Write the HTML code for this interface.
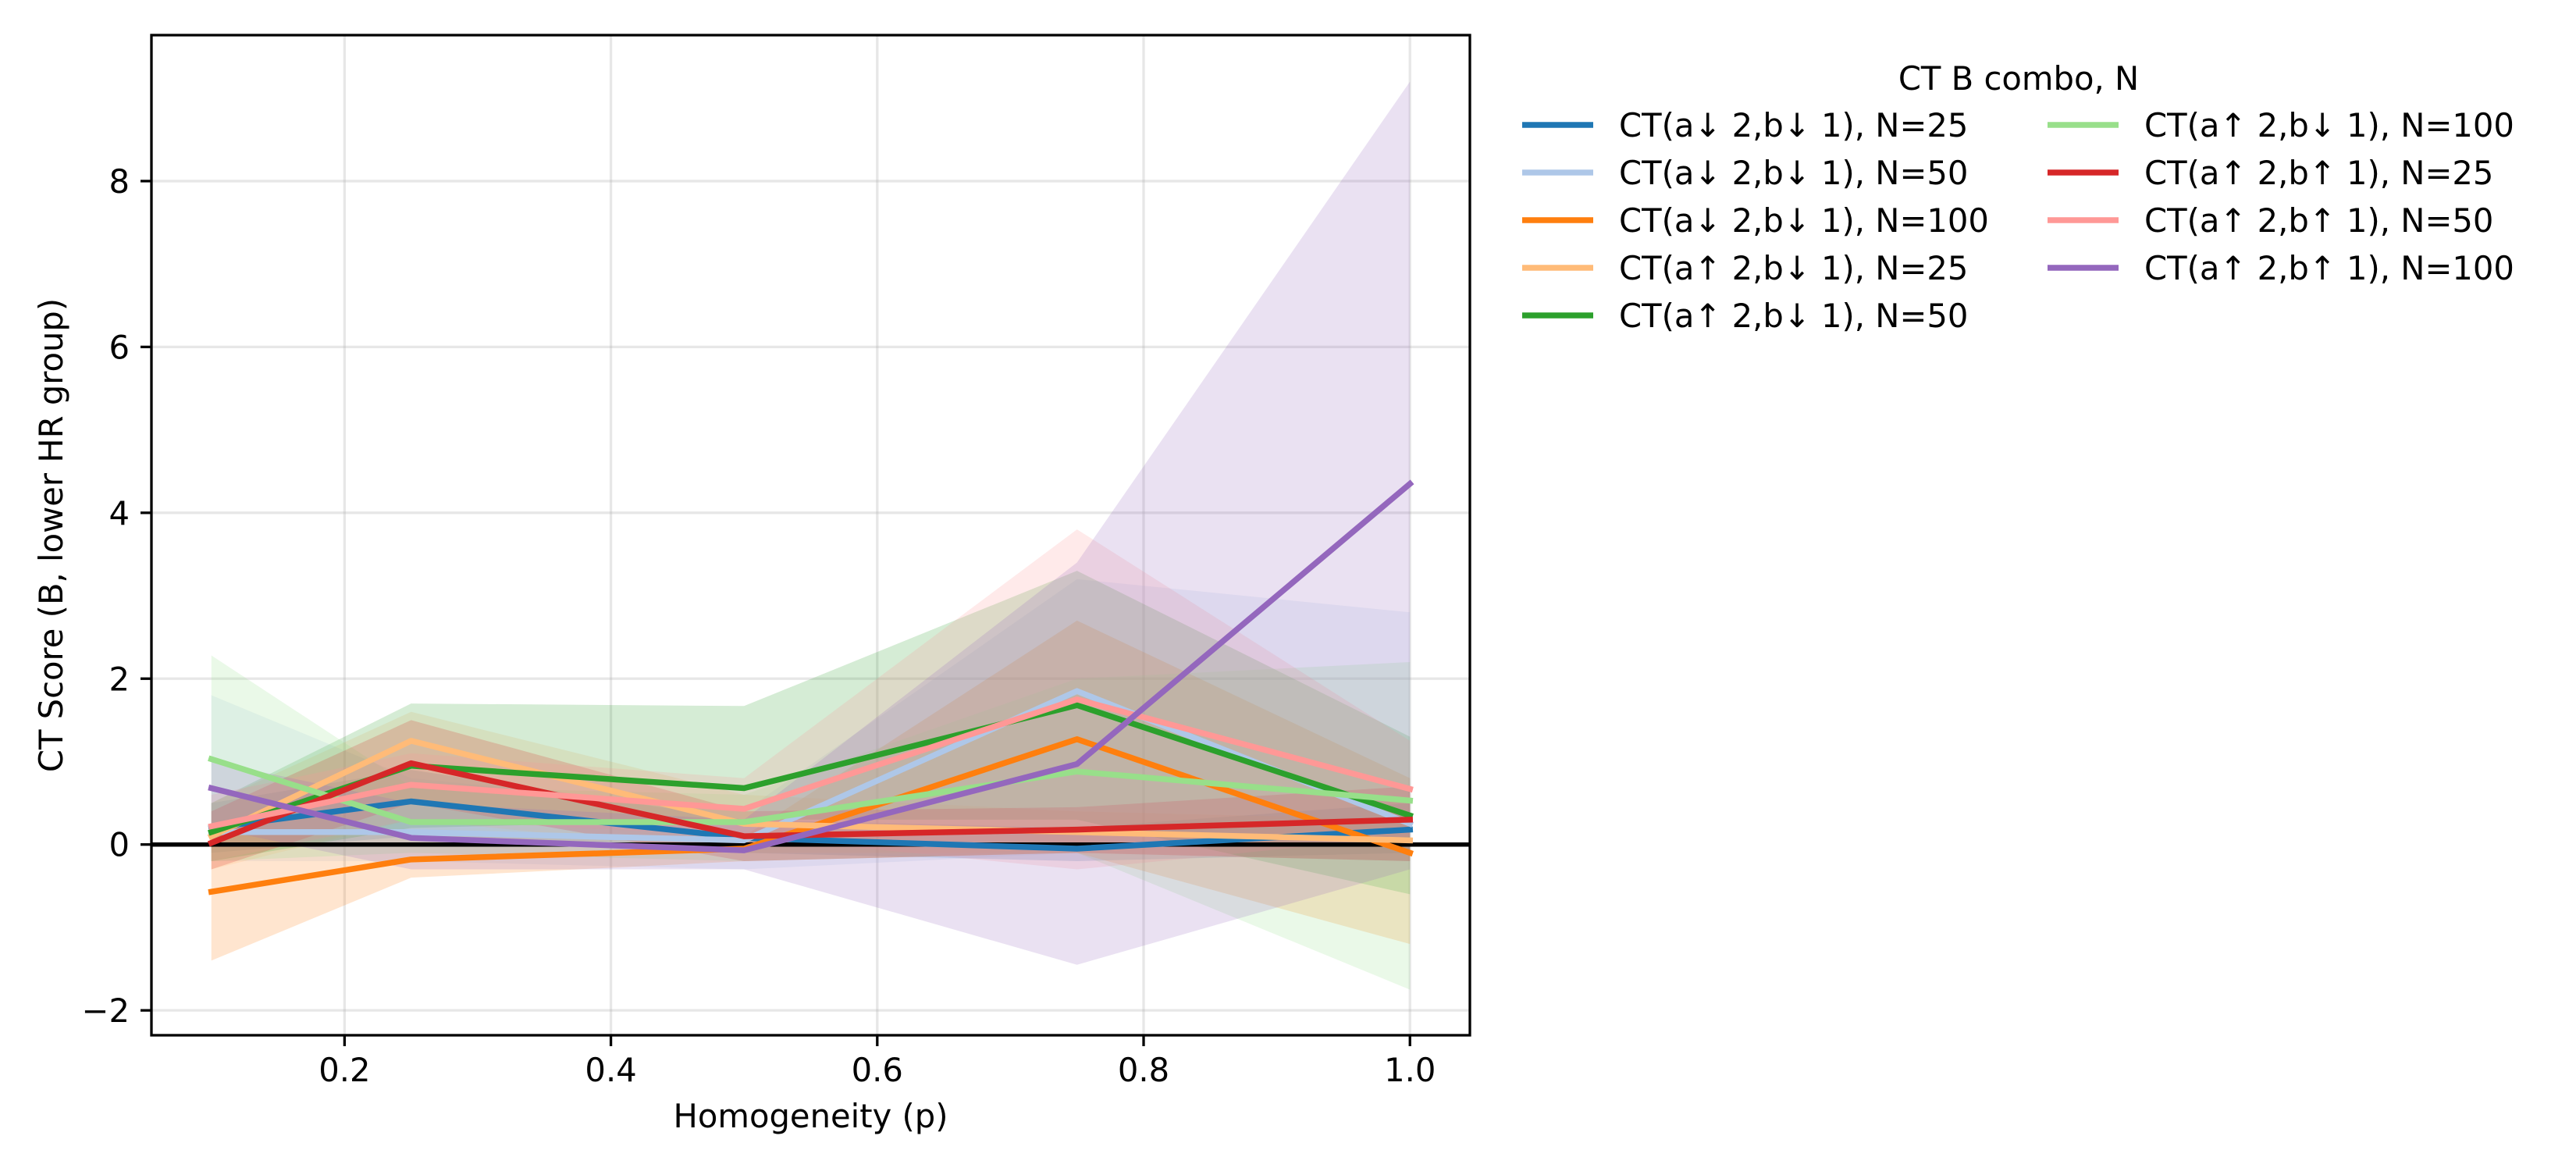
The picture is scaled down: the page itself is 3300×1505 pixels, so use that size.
<!DOCTYPE html>
<html><head><meta charset="utf-8"><style>
html,body{margin:0;padding:0;background:#fff;}
svg text{font-family:"DejaVu Sans","Liberation Sans",sans-serif;fill:#000;}
</style></head><body>
<svg id="chart" width="3300" height="1500" viewBox="0 0 3300 1500" xmlns="http://www.w3.org/2000/svg">
<rect width="3300" height="1500" fill="#fff"/>
<g id="grid"></g>
<g id="bands"></g>
<g id="lines"></g>
<g id="axes"></g>
<g id="legend"></g>
</svg>
<script>
const xValues = [0.1, 0.25, 0.5, 0.75, 1.0];
const xTicks = [0.2, 0.4, 0.6, 0.8, 1.0];
const xTickLabels = ["0.2", "0.4", "0.6", "0.8", "1.0"];
const yTicks = [-2, 0, 2, 4, 6, 8];
const yTickLabels = ["\u22122", "0", "2", "4", "6", "8"];
const seriesNames = ["CT(a\u2193 2,b\u2193 1), N=25","CT(a\u2193 2,b\u2193 1), N=50","CT(a\u2193 2,b\u2193 1), N=100","CT(a\u2191 2,b\u2193 1), N=25","CT(a\u2191 2,b\u2193 1), N=50","CT(a\u2191 2,b\u2193 1), N=100","CT(a\u2191 2,b\u2191 1), N=25","CT(a\u2191 2,b\u2191 1), N=50","CT(a\u2191 2,b\u2191 1), N=100"];
const seriesColors = ["#1f77b4","#aec7e8","#ff7f0e","#ffbb78","#2ca02c","#98df8a","#d62728","#ff9896","#9467bd"];
const meanS1 = [0.2, 0.52, 0.08, -0.05, 0.18];
const meanS2 = [0.15, 0.15, 0.05, 1.85, 0.25];
const meanS3 = [-0.57, -0.18, -0.05, 1.27, -0.1];
const meanS4 = [0.1, 1.25, 0.25, 0.15, 0.05];
const meanS5 = [0.15, 0.95, 0.68, 1.68, 0.35];
const meanS6 = [1.03, 0.27, 0.27, 0.88, 0.53];
const meanS7 = [0.02, 0.98, 0.1, 0.18, 0.3];
const meanS8 = [0.22, 0.72, 0.43, 1.75, 0.67];
const meanS9 = [0.68, 0.08, -0.07, 0.97, 4.35];
const loS1 = [-0.1, 0.1, -0.1, -0.2, -0.1];
const hiS1 = [0.5, 0.9, 0.3, 0.2, 0.5];
const loS2 = [-0.2, -0.2, -0.3, -0.1, -0.2];
const hiS2 = [1.8, 0.8, 0.4, 3.2, 2.8];
const loS3 = [-1.4, -0.4, -0.2, -0.1, -1.2];
const hiS3 = [0.2, 0.1, 0.1, 2.7, 0.8];
const loS4 = [-0.3, 0.3, -0.1, -0.1, -0.2];
const hiS4 = [0.5, 1.6, 0.6, 0.4, 0.3];
const loS5 = [-0.2, 0.2, 0.3, 0.3, -0.6];
const hiS5 = [0.5, 1.7, 1.67, 3.3, 1.3];
const loS6 = [-0.2, -0.1, -0.2, -0.1, -1.75];
const hiS6 = [2.28, 0.7, 0.6, 2.0, 2.2];
const loS7 = [-0.3, 0.5, -0.2, -0.1, -0.2];
const hiS7 = [0.4, 1.5, 0.4, 0.45, 0.7];
const loS8 = [-0.2, 0.3, 0.1, -0.3, 0.1];
const hiS8 = [0.6, 1.1, 0.8, 3.8, 1.25];
const loS9 = [0.2, -0.3, -0.3, -1.45, -0.3];
const hiS9 = [1.0, 0.5, 0.3, 3.4, 9.2];

const means = [meanS1,meanS2,meanS3,meanS4,meanS5,meanS6,meanS7,meanS8,meanS9];
const los = [loS1,loS2,loS3,loS4,loS5,loS6,loS7,loS8,loS9];
const his = [hiS1,hiS2,hiS3,hiS4,hiS5,hiS6,hiS7,hiS8,hiS9];

const NS = "http://www.w3.org/2000/svg";
const L = 194, R = 1883, T = 45, B = 1326;
const xMin = 0.055, xMax = 1.045, yMin = -2.3, yMax = 9.76;
function xs(v){ return L + (v - xMin) / (xMax - xMin) * (R - L); }
function ys(v){ return B - (v - yMin) / (yMax - yMin) * (B - T); }
function mk(tag, attrs, parent){
  const e = document.createElementNS(NS, tag);
  for (const k in attrs) e.setAttribute(k, attrs[k]);
  parent.appendChild(e); return e;
}
const gGrid = document.getElementById('grid');
const gBands = document.getElementById('bands');
const gLines = document.getElementById('lines');
const gAxes = document.getElementById('axes');
const gLeg = document.getElementById('legend');

xTicks.forEach((t,i)=>{
  const g = mk('line',{x1:xs(t),x2:xs(t),y1:T,y2:B,stroke:'#b0b0b0','stroke-opacity':0.3,'stroke-width':3.3},gGrid);
  
  
});
yTicks.forEach((t,i)=>{
  const g = mk('line',{x1:L,x2:R,y1:ys(t),y2:ys(t),stroke:'#b0b0b0','stroke-opacity':0.3,'stroke-width':3.3},gGrid);
  
  
});

means.forEach((m,s)=>{
  let pts = xValues.map((x,i)=>xs(x)+','+ys(his[s][i]));
  for (let i = xValues.length-1; i>=0; i--) pts.push(xs(xValues[i])+','+ys(los[s][i]));
  const p = mk('polygon',{points:pts.join(' '),fill:seriesColors[s],'fill-opacity':0.2},gBands);
  
  
});

const zl = mk('line',{x1:L,x2:R,y1:ys(0),y2:ys(0),stroke:'#000','stroke-width':5.5},gLines);



means.forEach((m,s)=>{
  const pl = mk('polyline',{points:xValues.map((x,i)=>xs(x)+','+ys(m[i])).join(' '),fill:'none',stroke:seriesColors[s],'stroke-width':7.5,'stroke-linejoin':'round','stroke-linecap':'square'},gLines);
  
  
});

const frame = mk('rect',{x:L,y:T,width:R-L,height:B-T,fill:'none',stroke:'#000','stroke-width':3.3},gAxes);



xTicks.forEach((t,i)=>{
  const tk = mk('line',{x1:xs(t),x2:xs(t),y1:B,y2:B+14,stroke:'#000','stroke-width':3.3},gAxes);
  
  
  const tx = mk('text',{x:xs(t),y:B+59,'font-size':41.7,'text-anchor':'middle'},gAxes);
  tx.textContent = xTickLabels[i];
  
  
});
yTicks.forEach((t,i)=>{
  const tk = mk('line',{x1:L-14,x2:L,y1:ys(t),y2:ys(t),stroke:'#000','stroke-width':3.3},gAxes);
  
  
  const tx = mk('text',{x:L-28,y:ys(t)+15,'font-size':41.7,'text-anchor':'end'},gAxes);
  tx.textContent = yTickLabels[i];
  
  
});
const xl = mk('text',{x:(L+R)/2,y:1444,'font-size':41.7,'text-anchor':'middle'},gAxes);
xl.textContent = 'Homogeneity (p)';


const yl = mk('text',{x:0,y:0,'font-size':41.7,'text-anchor':'middle',transform:'translate(80,'+((T+B)/2)+') rotate(-90)'},gAxes);
yl.textContent = 'CT Score (B, lower HR group)';



const lt = mk('text',{x:2586,y:115,'font-size':41.7,'text-anchor':'middle'},gLeg);
lt.textContent = 'CT B combo, N';


seriesNames.forEach((n,s)=>{
  const col = s < 5 ? 0 : 1;
  const row = s < 5 ? s : s-5;
  const hx = col ? 2623 : 1950;
  const y = 160 + row*61;
  const g = mk('g',{},gLeg);
  
  
  mk('line',{x1:hx,x2:hx+91,y1:y,y2:y,stroke:seriesColors[s],'stroke-width':7.5},g);
  const t = mk('text',{x:hx+124,y:y+15,'font-size':41.7},g);
  t.textContent = n;
});
</script>
</body></html>
